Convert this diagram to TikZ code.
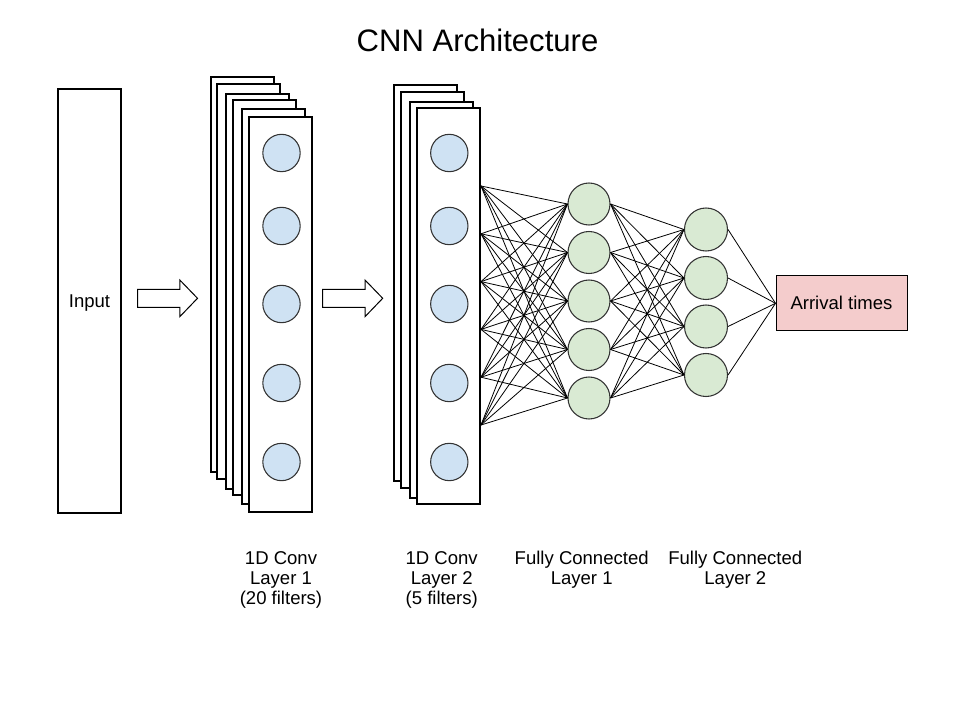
\documentclass[tikz,border=0pt]{standalone}
\usepackage{fontspec}
\setmainfont{Liberation Sans}
\definecolor{convblue}{HTML}{CFE2F3}
\definecolor{fcgreen}{HTML}{D9EAD3}
\definecolor{outpink}{HTML}{F4CCCC}
\tikzset{
  sheet/.style={draw,line width=1pt,fill=white},
  fatarrow/.style={draw,line width=0.75pt,fill=white},
  conv/.style={circle,draw=black!80,fill=convblue,line width=0.8pt,minimum size=28pt,inner sep=0pt},
  fc/.style={circle,draw=black!80,fill=fcgreen,line width=0.8pt,minimum size=31.5pt,inner sep=0pt},
  wire/.style={line width=0.6pt},
  txt/.style={font=\fontsize{13.9}{15}\selectfont},
  caption/.style={txt,align=center,anchor=north,inner sep=0pt}
}
\begin{document}
\begin{tikzpicture}[x=0.75pt,y=-0.75pt]
       \useasboundingbox(0,0)rectangle(960,720);
       \node[anchor=base,font=\fontsize{23.3}{28}\selectfont](title)at(477.5,51.7){CNN Architecture};
       \node[sheet,txt,text depth=0pt,minimum width=47.25pt,minimum height=318pt,inner sep=0pt](in)at(89.5,301){Input};
       \foreach \t in {137.5,322.7}
         \draw[fatarrow](\t,289.3)--++(42.3,0)--++(0,-9.3)--++(17.7,18.3)--++(-17.7,18.4)--++(0,-9.4)--++(-42.3,0)--cycle;
       \foreach \x/\y in {211/77,217/84,226/94,233/100,242/109,249/117}
         \draw[sheet](\x,\y)rectangle++(63,395);
       \foreach \x/\y in {394/85,401/92,410/102,417/108}
         \draw[sheet](\x,\y)rectangle++(63,396);
       \foreach \i/\y in {1/153,2/226,3/304,4/383,5/462}{
         \node[conv](a\i)at(281.5,\y){};
         \node[conv](b\i)at(449.3,\y){};
       }
       \foreach \i in {0,...,5}\coordinate(s\i)at(481,{186+47.8*\i});
       \foreach \i in {1,...,5}\node[fc](f\i)at(589,{204+48.5*(\i-1)}){};
       \foreach \i in {1,...,4}\node[fc,minimum size=32.25pt](g\i)at(706,{229.5+48.5*(\i-1)}){};
       \node[draw,fill=outpink,line width=0.75pt,minimum width=98.25pt,minimum height=41.5pt,txt](out)at(841.5,303.3){Arrival times};
       \foreach \i in {0,...,5}\foreach \j in {1,...,5}\draw[wire](s\i)--(f\j.west);
       \foreach \i in {1,...,5}\foreach \j in {1,...,4}\draw[wire](f\i.east)--(g\j.west);
       \foreach \j in {1,...,4}\draw[wire](g\j.east)--(out.west);
       \node[caption](c1)at(281,551.3){1D Conv\\Layer 1\\(20 filters)};
       \node[caption](c2)at(441.7,551.3){1D Conv\\Layer 2\\(5 filters)};
       \node[caption](c3)at(581.7,550.5){Fully Connected\\Layer 1};
       \node[caption](c4)at(735.3,550.5){Fully Connected\\Layer 2};
      \end{tikzpicture}
\end{document}
